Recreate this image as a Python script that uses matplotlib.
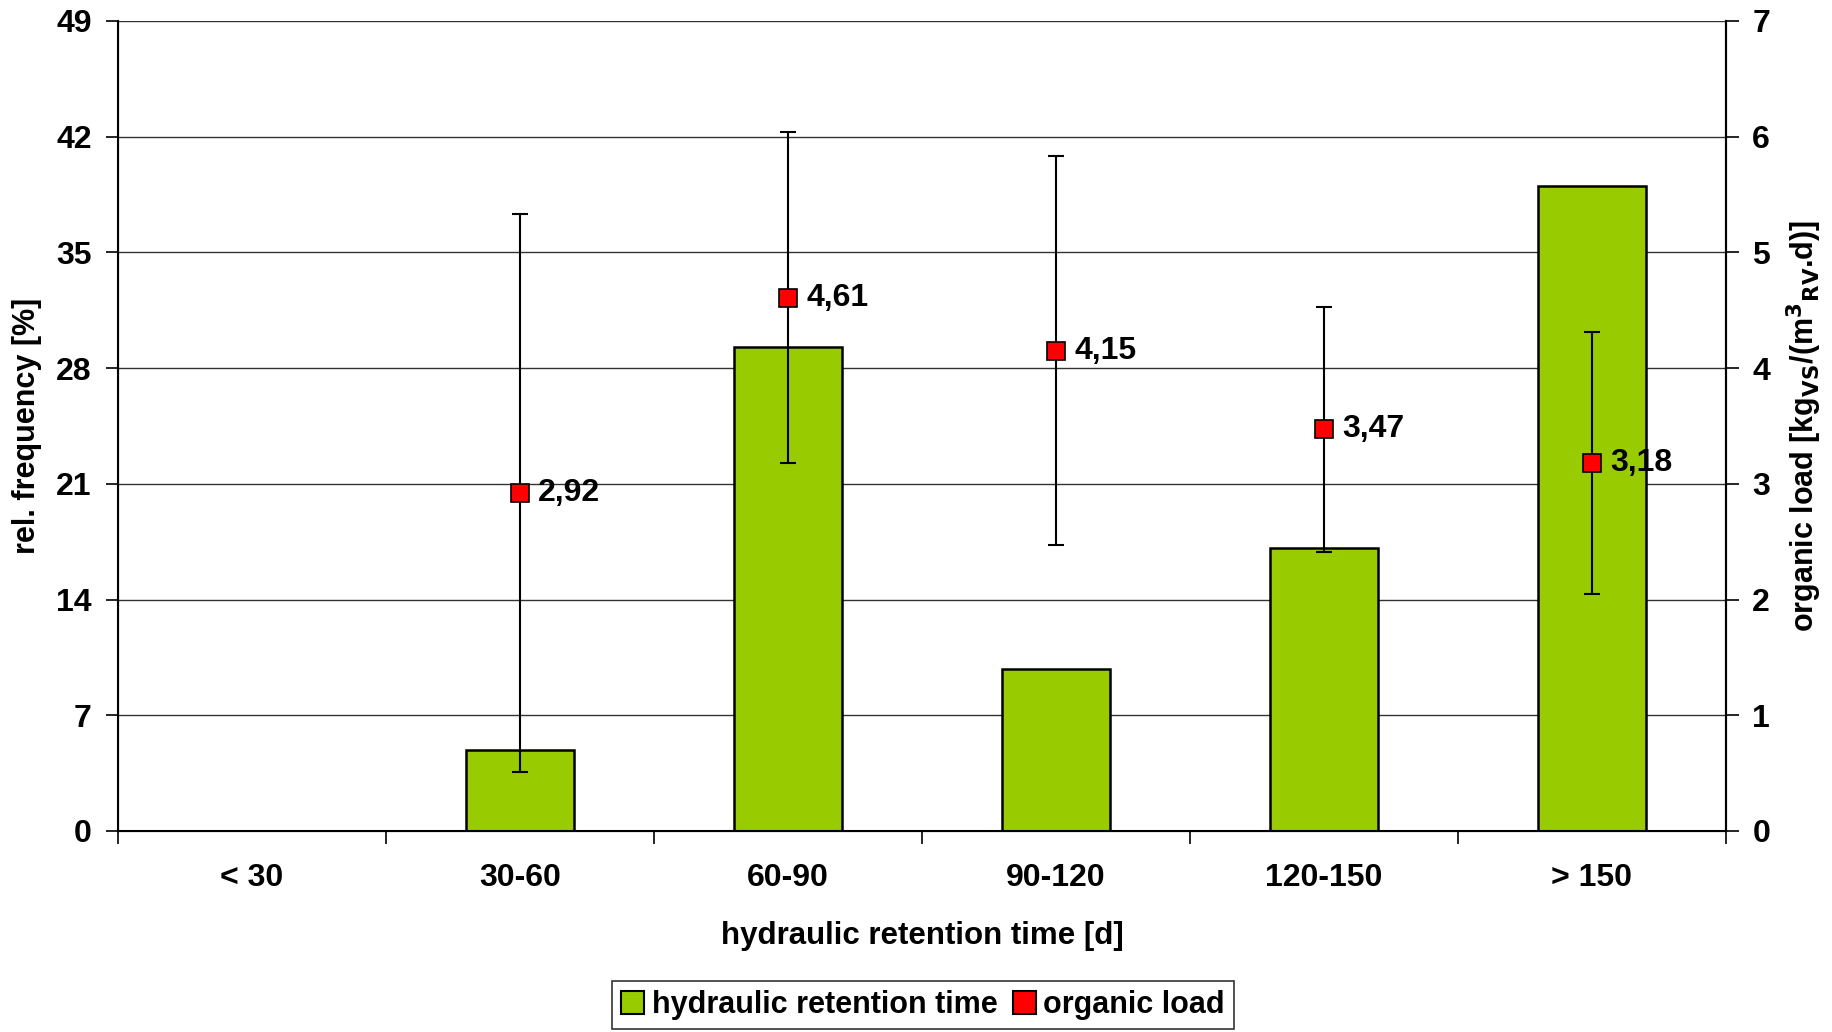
import matplotlib
matplotlib.use("Agg")
import matplotlib.pyplot as plt
import matplotlib.patches as mpatches
import numpy as np

plt.rcParams['font.family'] = ['Liberation Sans', 'DejaVu Sans']
plt.rcParams['font.weight'] = 'bold'

# data
categories = ["< 30", "30-60", "60-90", "90-120", "120-150", "> 150"]
rel_freq = [0, 4.9, 29.3, 9.8, 17.1, 39.0]          # %
load_cats = [1, 2, 3, 4, 5]                          # index into categories
load_mean = [2.92, 4.61, 4.15, 3.47, 3.18]           # kgVS/(m3RV.d)
load_sd = [2.41, 1.43, 1.68, 1.06, 1.13]
load_text = ["2,92", "4,61", "4,15", "3,47", "3,18"]

green = "#99CC00"
red = "#FF0000"

fig = plt.figure(figsize=(18.32, 10.32), dpi=100)
ax = fig.add_axes([0.0644, 0.1948, 0.8777, 0.7849])
x = np.arange(len(categories))

ax.bar(x, rel_freq, width=0.4, color=green, edgecolor="black", linewidth=1.8, zorder=2)
ax.set_xlim(-0.5, len(categories) - 0.5)
ax.set_ylim(0, 49)
ax.set_yticks(np.arange(0, 50, 7))
ax.grid(axis="y", color="#333333", linewidth=1.0, zorder=0)
ax.set_axisbelow(True)

# x ticks sit on category borders, labels centred
ax.set_xticks(np.arange(-0.5, len(categories), 1.0))
ax.set_xticklabels([])
ax.set_xticks(x, minor=True)
ax.set_xticklabels(categories, minor=True, fontsize=23, fontweight="bold")
ax.tick_params(axis="x", which="major", length=9, width=1.2, direction="out")
ax.tick_params(axis="x", which="minor", length=0, pad=23)
ax.tick_params(axis="y", length=9, width=1.2, labelsize=23, pad=10)
for lab in ax.get_yticklabels():
    lab.set_fontweight("bold")
ax.set_xlabel("hydraulic retention time [d]", fontsize=22.5, fontweight="bold", labelpad=20)
ax.set_ylabel("rel. frequency [%]", fontsize=22, fontweight="bold", labelpad=10)
for s in ["left", "right", "bottom"]:
    ax.spines[s].set_linewidth(1.5)
ax.spines["top"].set_visible(False)

ax2 = ax.twinx()
ax2.set_ylim(0, 7)
ax2.set_yticks(range(0, 8))
ax2.tick_params(axis="y", length=9, width=1.2, labelsize=23, pad=10)
for lab in ax2.get_yticklabels():
    lab.set_fontweight("bold")
ax2.set_ylabel("organic load [kg$_{\\mathbf{VS}}$/(m$^{\\mathbf{3}}{}_{\\mathbf{RV}}$.d)]",
               fontsize=22, fontweight="bold", labelpad=10)
ax2.spines["right"].set_linewidth(1.5)
ax2.spines["top"].set_visible(False)

ax2.errorbar(load_cats, load_mean, yerr=load_sd, fmt="none", ecolor="black",
             elinewidth=1.5, capsize=6, capthick=1.5, zorder=3)
ax2.plot(load_cats, load_mean, linestyle="none", marker="s", markersize=13,
         markerfacecolor=red, markeredgecolor="black", markeredgewidth=1.2, zorder=4)
for xi, yi, t in zip(load_cats, load_mean, load_text):
    ax2.annotate(t, (xi, yi), xytext=(13, 0), textcoords="offset points",
                 va="center", ha="left", fontsize=23, fontweight="bold", zorder=5)

h1 = mpatches.Patch(facecolor=green, edgecolor="black", linewidth=1.5)
h2 = mpatches.Patch(facecolor=red, edgecolor="black", linewidth=1.5)
leg = fig.legend([h1, h2], ["hydraulic retention time", "organic load"],
                 loc="center", bbox_to_anchor=(0.5038, 0.026), ncol=2,
                 frameon=True, fancybox=False, edgecolor="black",
                 prop={"size": 22, "weight": "bold"},
                 handlelength=0.75, handleheight=0.75, handletextpad=0.25,
                 columnspacing=0.5, borderpad=0.3)
leg.get_frame().set_linewidth(1.2)

fig.savefig("out.png", dpi=100)
